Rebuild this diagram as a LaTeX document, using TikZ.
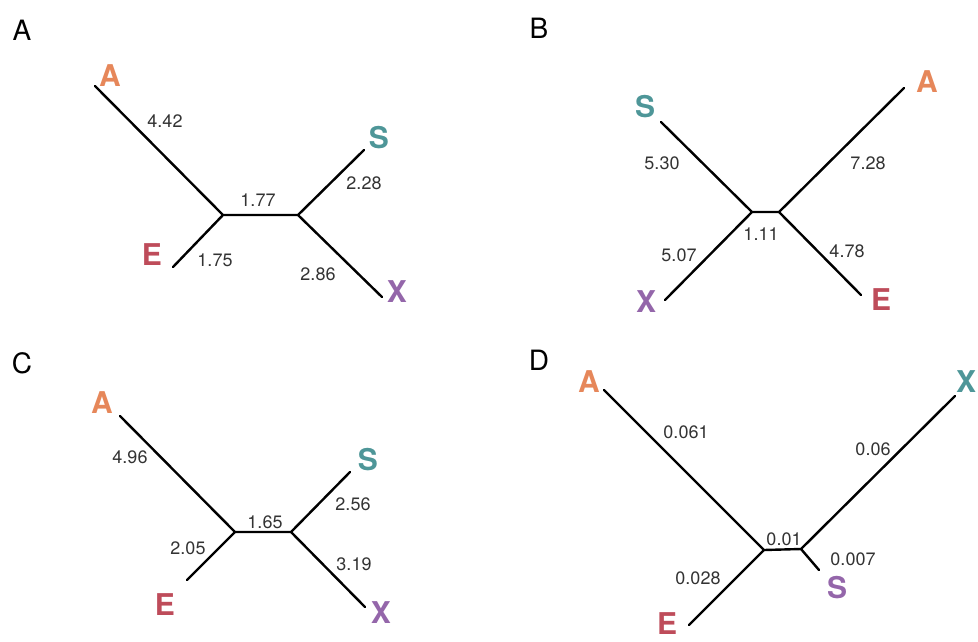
\documentclass[tikz,border=0pt]{standalone}
\usepackage{fontspec}
\setmainfont{TeX Gyre Heros}
\definecolor{cA}{RGB}{230,135,90}
\definecolor{cS}{RGB}{78,150,152}
\definecolor{cE}{RGB}{190,76,90}
\definecolor{cX}{RGB}{148,102,170}
\tikzset{
  branch/.style={line width=2.4pt, line cap=round},
  panel/.style={font=\fontsize{28}{30}\selectfont, inner sep=0pt},
  leaf/.style={font=\fontsize{30}{32}\selectfont\bfseries, inner sep=0pt},
  blen/.style={font=\fontsize{18}{20}\selectfont, text=black!80, inner sep=0pt},
}
\begin{document}
\begin{tikzpicture}[x=1pt,y=-1pt]
\useasboundingbox (0,0) rectangle (978,641);
\clip (0,0) rectangle (978,641);
% ---------- Panel A ----------
\node[panel] (pA) at (22,30) {A};
\coordinate (a1) at (95,86);
\coordinate (a2) at (173,267);
\coordinate (a3) at (364,150);
\coordinate (a4) at (382,297);
\coordinate (au) at (223,215);
\coordinate (av) at (298,215);
\draw[branch] (a1) -- (au) -- (av) -- (a3);
\draw[branch] (a2) -- (au);
\draw[branch] (av) -- (a4);
\node[leaf,text=cA] (aA) at (110,76) {A};
\node[leaf,text=cS] (aS) at (379,138) {S};
\node[leaf,text=cE] (aE) at (152,255) {E};
\node[leaf,text=cX] (aX) at (397,292) {X};
\node[blen] (la1) at (165,121) {4.42};
\node[blen] (la2) at (258,200) {1.77};
\node[blen] (la3) at (364,183) {2.28};
\node[blen] (la4) at (215,260) {1.75};
\node[blen] (la5) at (318,274) {2.86};
% ---------- Panel B ----------
\node[panel] (pB) at (539,28) {B};
\coordinate (b1) at (661,122);
\coordinate (b2) at (665,300);
\coordinate (b3) at (904,88);
\coordinate (b4) at (861,295);
\coordinate (bu) at (752,212);
\coordinate (bv) at (779,212);
\draw[branch] (b1) -- (bu) -- (bv) -- (b3);
\draw[branch] (b2) -- (bu);
\draw[branch] (bv) -- (b4);
\node[leaf,text=cS] (bS) at (645,107) {S};
\node[leaf,text=cA] (bA) at (927,82) {A};
\node[leaf,text=cX] (bX) at (646,302) {X};
\node[leaf,text=cE] (bE) at (881,300) {E};
\node[blen] (lb1) at (662,163) {5.30};
\node[blen] (lb2) at (868,163) {7.28};
\node[blen] (lb3) at (761,234) {1.11};
\node[blen] (lb4) at (679,255) {5.07};
\node[blen] (lb5) at (847,251) {4.78};
% ---------- Panel C ----------
\node[panel] (pC) at (22,363) {C};
\coordinate (c1) at (120,416);
\coordinate (c2) at (187,580);
\coordinate (c3) at (350,472);
\coordinate (c4) at (365,607);
\coordinate (cu) at (235,532);
\coordinate (cv) at (291,532);
\draw[branch] (c1) -- (cu) -- (cv) -- (c3);
\draw[branch] (c2) -- (cu);
\draw[branch] (cv) -- (c4);
\node[leaf,text=cA] (cA) at (102,403) {A};
\node[leaf,text=cS] (cS) at (368,460) {S};
\node[leaf,text=cE] (cE) at (165,605) {E};
\node[leaf,text=cX] (cX) at (381,613) {X};
\node[blen] (lc1) at (130,457) {4.96};
\node[blen] (lc2) at (265,522) {1.65};
\node[blen] (lc3) at (353,504) {2.56};
\node[blen] (lc4) at (188,548) {2.05};
\node[blen] (lc5) at (354,564) {3.19};
% ---------- Panel D ----------
\node[panel] (pD) at (539,360) {D};
\coordinate (d1) at (604,390);
\coordinate (d2) at (689,625);
\coordinate (d3) at (955,396);
\coordinate (d4) at (819,570);
\coordinate (du) at (764,550);
\coordinate (dv) at (801,549);
\draw[branch] (d1) -- (du) -- (dv) -- (d3);
\draw[branch] (d2) -- (du);
\draw[branch] (dv) -- (d4);
\node[leaf,text=cA] (dA) at (589,382) {A};
\node[leaf,text=cS] (dX) at (966,382) {X};
\node[leaf,text=cX] (dS) at (837,588) {S};
\node[leaf,text=cE] (dE) at (667,624) {E};
\node[blen] (ld1) at (686,432) {0.061};
\node[blen] (ld2) at (873,449) {0.06};
\node[blen] (ld3) at (784,539) {0.01};
\node[blen] (ld4) at (853,559) {0.007};
\node[blen] (ld5) at (698,578) {0.028};
\end{tikzpicture}
\end{document}
